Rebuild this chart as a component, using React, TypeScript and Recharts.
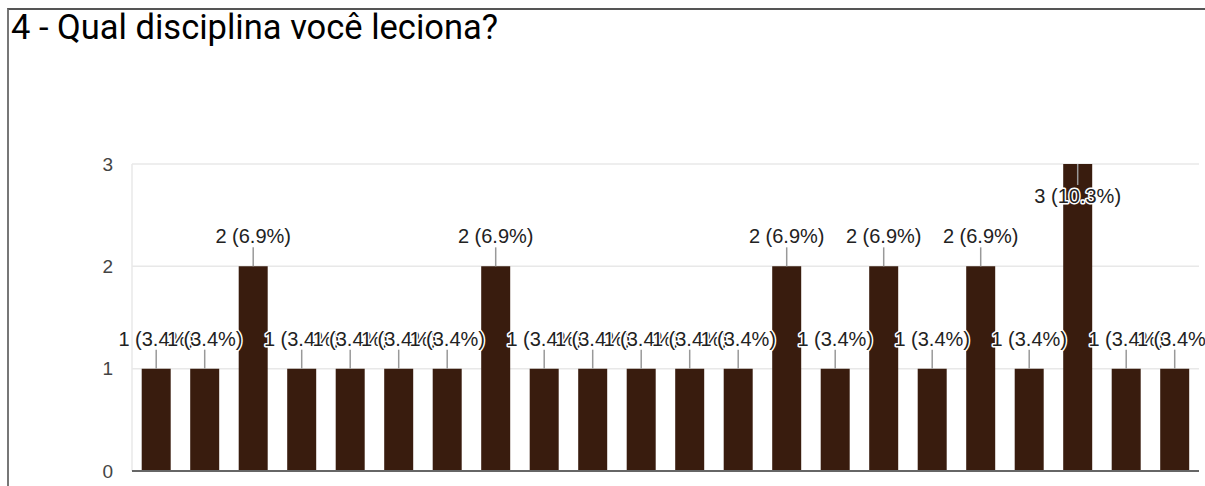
import React from "react"
import { BarChart, Bar, XAxis, YAxis, CartesianGrid, LabelList } from "recharts"

// x labels are cut off in the reference, so the names are placeholders
const categories = [
  "D1", "D2", "D3", "D4", "D5", "D6", "D7", "D8", "D9", "D10", "D11",
  "D12", "D13", "D14", "D15", "D16", "D17", "D18", "D19", "D20", "D21", "D22",
]
const counts = [1, 1, 2, 1, 1, 1, 1, 2, 1, 1, 1, 1, 1, 2, 1, 2, 1, 2, 1, 3, 1, 1]
const yTicks = [0, 1, 2, 3]

const total = counts.reduce((s, v) => s + v, 0)
const data = categories.map((name, i) => ({ name, value: counts[i] }))

const LABEL_FONT = "'Liberation Sans', Arial, sans-serif"

const BarLabel = (props: any) => {
  const { x, y, width, value } = props
  const cx = x + width / 2
  const text = `${value} (${((value / total) * 100).toFixed(1)}%)`
  const atTop = value === 3
  const lineY1 = y
  const lineY2 = atTop ? y + 21 : y - 19
  const textY = atTop ? y + 39 : y - 23
  return (
    <g>
      <line x1={cx} x2={cx} y1={lineY1} y2={lineY2} stroke="#999" strokeWidth={1.5} />
      <text
        x={cx}
        y={textY}
        textAnchor="middle"
        fontFamily={LABEL_FONT}
        fontSize={20}
        fill="#222"
        stroke="#fff"
        strokeWidth={3}
        paintOrder="stroke"
        strokeLinejoin="round"
      >
        {text}
      </text>
    </g>
  )
}

export default function App() {
  return (
    <div
      style={{
        position: "absolute",
        left: 0,
        top: 0,
        width: 1205,
        height: 486,
        overflow: "hidden",
        background: "#fff",
      }}
    >
      <div
        style={{
          position: "absolute",
          left: 7,
          top: 8,
          width: 1205,
          height: 486,
          borderTop: "2px solid #555",
          borderLeft: "2px solid #777",
        }}
      />
      <div
        style={{
          position: "absolute",
          left: 11,
          top: 7,
          fontFamily: "Roboto, sans-serif",
          fontSize: 34.5,
          color: "#000",
          lineHeight: "40px",
          whiteSpace: "nowrap",
        }}
      >
        4 - Qual disciplina você leciona?
      </div>
      <div style={{ position: "absolute", left: 0, top: 0 }}>
        <BarChart
          width={1205}
          height={486}
          data={data}
          margin={{ top: 164, right: 6, bottom: 0, left: 0 }}
          barCategoryGap="20%"
        >
          <CartesianGrid vertical={false} stroke="#e8e8e8" strokeWidth={1.5} />
          <YAxis
            width={132}
            domain={[0, 3]}
            ticks={yTicks}
            tickLine={false}
            tickSize={0}
            tickMargin={19}
            axisLine={{ stroke: "#e8e8e8", strokeWidth: 1.5 }}
            tick={{ fill: "#444", fontSize: 19, fontFamily: LABEL_FONT }}
          />
          <XAxis
            dataKey="name"
            height={15}
            tick={false}
            tickLine={false}
            axisLine={{ stroke: "#666", strokeWidth: 2 }}
          />
          <Bar dataKey="value" fill="#391c0e" isAnimationActive={false}>
            <LabelList dataKey="value" content={<BarLabel />} />
          </Bar>
        </BarChart>
      </div>
    </div>
  )
}
